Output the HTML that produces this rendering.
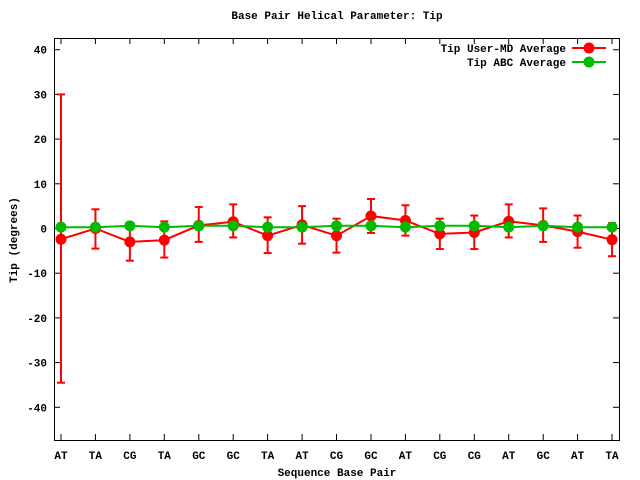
<!DOCTYPE html>
<html><head><meta charset="utf-8"><style>html,body{margin:0;padding:0;background:#fff}svg{display:block}text{font-family:"Liberation Mono","DejaVu Sans Mono",monospace;font-size:11px;font-weight:bold;fill:#000}</style></head><body>
<svg id="s" width="640" height="480" xmlns="http://www.w3.org/2000/svg">
<text x="337" y="19" text-anchor="middle">Base Pair Helical Parameter: Tip</text>
<text x="337" y="476" text-anchor="middle">Sequence Base Pair</text>
<text transform="translate(17,240) rotate(-90)" text-anchor="middle">Tip (degrees)</text>
<g id="g"></g>
<rect x="54.5" y="38.5" width="565" height="402" fill="none" stroke="#000" stroke-width="1"/>
<text x="566" y="52" text-anchor="end">Tip User-MD Average</text>
<text x="566" y="66" text-anchor="end">Tip ABC Average</text>
<line x1="572" y1="48" x2="606" y2="48" stroke="#f00" stroke-width="2"/><circle cx="589" cy="48" r="5.5" fill="#f00"/>
<line x1="572" y1="62" x2="606" y2="62" stroke="#0b0" stroke-width="2"/><circle cx="589" cy="62" r="5.5" fill="#0b0"/>
</svg>
<script>
var g=document.getElementById('g'),h='';
function Y(v){return 228.5-4.47*v}
for(var v=-40;v<=40;v+=10){var y=Y(v).toFixed(1);h+='<line x1="54" y1="'+y+'" x2="60" y2="'+y+'" stroke="#000"/><line x1="613" y1="'+y+'" x2="619" y2="'+y+'" stroke="#000"/><text x="47" y="'+(+y+4)+'" text-anchor="end">'+v+'</text>';}
var L=["AT","TA","CG","TA","GC","GC","TA","AT","CG","GC","AT","CG","CG","AT","GC","AT","TA"];
var R=[[-2.4,-34.5,30],[0,-4.5,4.3],[-3,-7.2,0.7],[-2.6,-6.5,1.6],[0.7,-3,4.8],[1.5,-2,5.4],[-1.6,-5.5,2.5],[0.8,-3.4,5],[-1.6,-5.4,2.2],[2.8,-1,6.6],[1.8,-1.6,5.2],[-1.2,-4.6,2.2],[-0.9,-4.6,2.9],[1.6,-2,5.4],[0.7,-3,4.5],[-0.7,-4.3,2.9],[-2.5,-6.2,1.2]];
var G=[0.3,0.3,0.6,0.3,0.6,0.6,0.3,0.3,0.6,0.6,0.3,0.6,0.6,0.3,0.6,0.3,0.3];
function X(i){return 61+i*34.44}
var pr='',pg='';
for(var i=0;i<17;i++){var x=X(i).toFixed(1);
h+='<line x1="'+x+'" y1="440" x2="'+x+'" y2="434" stroke="#000"/><line x1="'+x+'" y1="38" x2="'+x+'" y2="44" stroke="#000"/><text x="'+x+'" y="459" text-anchor="middle">'+L[i]+'</text>';
pr+=x+','+Y(R[i][0]).toFixed(1)+' ';pg+=x+','+Y(G[i]).toFixed(1)+' ';}
h+='<polyline points="'+pr+'" fill="none" stroke="#f00" stroke-width="2"/>';
for(var i=0;i<17;i++){var x=X(i),a=Y(R[i][1]),b=Y(R[i][2]);
h+='<g stroke="#f00" stroke-width="2"><line x1="'+x+'" y1="'+a+'" x2="'+x+'" y2="'+b+'"/><line x1="'+(x-4)+'" y1="'+a+'" x2="'+(x+4)+'" y2="'+a+'"/><line x1="'+(x-4)+'" y1="'+b+'" x2="'+(x+4)+'" y2="'+b+'"/></g><circle cx="'+x+'" cy="'+Y(R[i][0])+'" r="5.5" fill="#f00"/>';}
h+='<polyline points="'+pg+'" fill="none" stroke="#0b0" stroke-width="2"/>';
for(var i=0;i<17;i++)h+='<circle cx="'+X(i)+'" cy="'+Y(G[i])+'" r="5.5" fill="#0b0"/>';
g.innerHTML=h;
</script>
</body></html>
